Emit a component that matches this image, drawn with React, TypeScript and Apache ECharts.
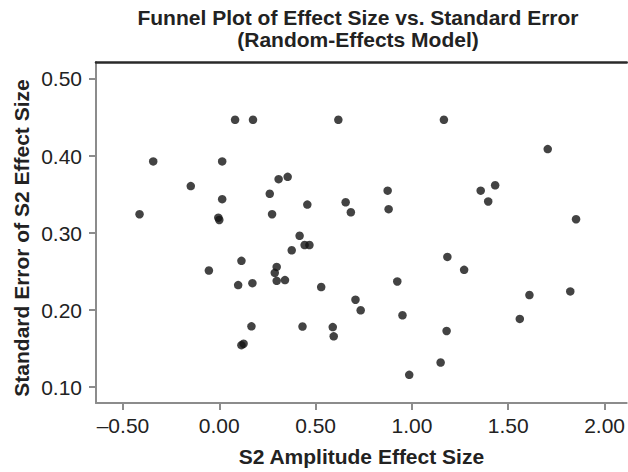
import React, { useEffect, useRef } from "react";
import * as echarts from "echarts";

const titleLines = ["Funnel Plot of Effect Size vs. Standard Error", "(Random-Effects Model)"];
const xAxisTitle = "S2 Amplitude Effect Size";
const yAxisTitle = "Standard Error of S2 Effect Size";

const xTicks = [-0.5, 0, 0.5, 1, 1.5, 2];
const yTicks = [0.1, 0.2, 0.3, 0.4, 0.5];

const effectSize = [
  -0.414, -0.343, -0.148, -0.054, 0.015, 0.015, -0.005, 0.0, 0.082, 0.175,
  0.098, 0.115, 0.115, 0.126, 0.167, 0.172, 0.262, 0.274, 0.288, 0.298,
  0.298, 0.308, 0.341, 0.355, 0.376, 0.417, 0.432, 0.443, 0.468, 0.457,
  0.529, 0.589, 0.594, 0.618, 0.656, 0.683, 0.707, 0.734, 0.874, 0.879,
  0.924, 0.951, 0.986, 1.149, 1.166, 1.18, 1.184, 1.271, 1.357, 1.396,
  1.432, 1.56, 1.61, 1.705, 1.822, 1.852,
];
const standardError = [
  0.3245, 0.393, 0.361, 0.2514, 0.393, 0.344, 0.32, 0.317, 0.447, 0.447,
  0.2325, 0.264, 0.1546, 0.1564, 0.179, 0.235, 0.351, 0.3245, 0.2484, 0.2561,
  0.238, 0.37, 0.239, 0.373, 0.2777, 0.2965, 0.1787, 0.2845, 0.2845, 0.337,
  0.23, 0.178, 0.166, 0.447, 0.34, 0.327, 0.2135, 0.1998, 0.355, 0.331,
  0.2372, 0.1933, 0.116, 0.132, 0.447, 0.173, 0.2691, 0.2523, 0.355, 0.341,
  0.362, 0.1886, 0.2196, 0.409, 0.2243, 0.318,
];

const FONT = "'Liberation Sans', Arial, Helvetica, sans-serif";
const fmt = (v: number) => (v < 0 ? "\u2013" + Math.abs(v).toFixed(2) : v.toFixed(2));

export default function App() {
  const ref = useRef<HTMLDivElement>(null);
  useEffect(() => {
    if (!ref.current) return;
    const chart = echarts.init(ref.current, null, { renderer: "svg" });
    const axisGray = "#8c8c8c";
    const boldText = {
      align: "center",
      verticalAlign: "middle",
      fontSize: 21,
      fontWeight: "bold",
      fontFamily: FONT,
      fill: "#222",
    };
    chart.setOption({
      animation: false,
      backgroundColor: "#ffffff",
      textStyle: { fontFamily: FONT },
      graphic: [
        { type: "text", x: 358, y: 17, style: { ...boldText, text: titleLines[0] } },
        { type: "text", x: 358, y: 39, style: { ...boldText, text: titleLines[1] } },
        {
          type: "text",
          x: 21,
          y: 238,
          rotation: Math.PI / 2,
          style: { ...boldText, text: yAxisTitle },
        },
      ],
      grid: { left: 96, right: 0, top: 62, bottom: 67, containLabel: false },
      xAxis: [
        {
          type: "value",
          min: -0.64,
          max: 2.115,
          position: "bottom",
          axisLine: { show: true, onZero: false, lineStyle: { color: axisGray, width: 2 } },
          axisTick: {
            show: true,
            length: 7,
            customValues: xTicks,
            lineStyle: { color: axisGray, width: 2 },
          },
          axisLabel: {
            customValues: xTicks,
            formatter: fmt,
            fontSize: 21,
            color: "#222",
            margin: 12,
            fontFamily: FONT,
          },
          splitLine: { show: false },
          name: xAxisTitle,
          nameLocation: "middle",
          nameGap: 43,
          nameTextStyle: { fontSize: 21, fontWeight: "bold", color: "#222", fontFamily: FONT },
        },
        {
          type: "value",
          min: -0.64,
          max: 2.115,
          position: "top",
          axisLine: { show: true, onZero: false, lineStyle: { color: "#2a2a2a", width: 2.5 } },
          axisTick: { show: false },
          axisLabel: { show: false },
          splitLine: { show: false },
        },
      ],
      yAxis: {
        type: "value",
        min: 0.0795,
        max: 0.522,
        axisLine: { show: true, onZero: false, lineStyle: { color: axisGray, width: 2 } },
        axisTick: {
          show: true,
          length: 7,
          customValues: yTicks,
          lineStyle: { color: axisGray, width: 2 },
        },
        axisLabel: {
          customValues: yTicks,
          formatter: fmt,
          fontSize: 21,
          color: "#222",
          margin: 14,
          fontFamily: FONT,
        },
        splitLine: { show: false },
      },
      series: [
        {
          type: "scatter",
          xAxisIndex: 0,
          yAxisIndex: 0,
          symbol: "circle",
          symbolSize: 8.5,
          itemStyle: { color: "#141414" },
          data: effectSize.map((x, i) => [x, standardError[i]]),
        },
      ],
    });
    return () => chart.dispose();
  }, []);
  return (
    <div
      ref={ref}
      style={{ position: "absolute", left: 0, top: 0, width: 628, height: 472, background: "#fff" }}
    />
  );
}
